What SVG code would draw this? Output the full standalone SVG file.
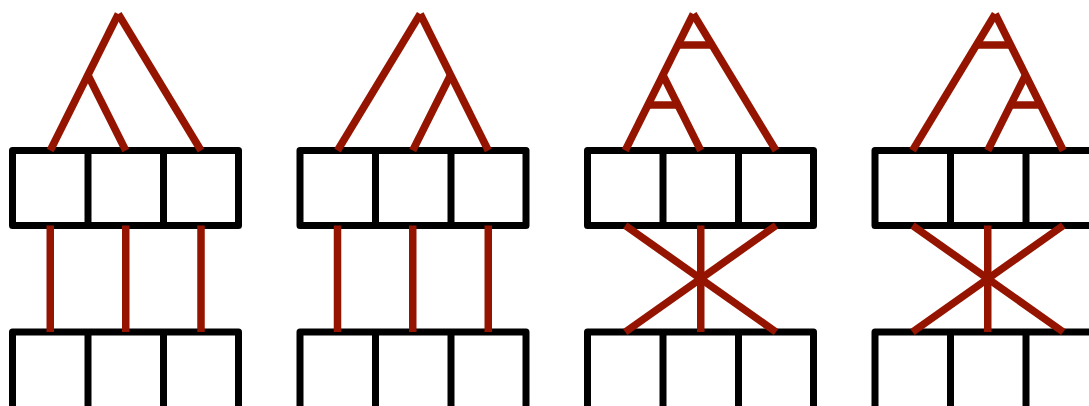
<svg xmlns="http://www.w3.org/2000/svg" xmlns:xlink="http://www.w3.org/1999/xlink" width="1089" height="406" viewBox="0 0 1089 406">
<style>
.box{fill:none;stroke:#000;stroke-width:7;stroke-linejoin:round}
.wire{fill:none;stroke:#941400;stroke-width:7.5;stroke-linecap:butt}
</style>
<defs>
<g id="rowTop">
<rect class="box" x="12.5" y="0" width="226" height="75"/>
<line class="box" x1="88" y1="0" x2="88" y2="75"/>
<line class="box" x1="163.5" y1="0" x2="163.5" y2="75"/>
</g>
<g id="rowBottom">
<rect class="box" x="12.5" y="0" width="226" height="80"/>
<line class="box" x1="88" y1="0" x2="88" y2="80"/>
<line class="box" x1="163.5" y1="0" x2="163.5" y2="80"/>
</g>
<g id="tree">
<line class="wire" x1="118.3" y1="14" x2="50.25" y2="150.5"/>
<line class="wire" x1="87.9" y1="75" x2="125.75" y2="150.5"/>
<line class="wire" x1="118.3" y1="14" x2="201" y2="150.5"/>
</g>
<g id="bars">
<line class="wire" x1="102.85" y1="45" x2="137.1" y2="45"/>
<line class="wire" x1="72.94" y1="105" x2="102.94" y2="105"/>
</g>
<g id="straight">
<line class="wire" x1="50.25" y1="225.5" x2="50.25" y2="332"/>
<line class="wire" x1="125.75" y1="225.5" x2="125.75" y2="332"/>
<line class="wire" x1="201" y1="225.5" x2="201" y2="332"/>
</g>
<g id="cross">
<line class="wire" x1="50.25" y1="225.5" x2="201" y2="332"/>
<line class="wire" x1="201" y1="225.5" x2="50.25" y2="332"/>
<line class="wire" x1="125.75" y1="225.5" x2="125.75" y2="332"/>
</g>
</defs>
<g id="panel1-top" transform="translate(0,150.5)"><use href="#rowTop" xlink:href="#rowTop"/></g>
<g id="panel1-bottom" transform="translate(0,332)"><use href="#rowBottom" xlink:href="#rowBottom"/></g>
<g id="panel2-top" transform="translate(287.5,150.5)"><use href="#rowTop" xlink:href="#rowTop"/></g>
<g id="panel2-bottom" transform="translate(287.5,332)"><use href="#rowBottom" xlink:href="#rowBottom"/></g>
<g id="panel3-top" transform="translate(575,150.5)"><use href="#rowTop" xlink:href="#rowTop"/></g>
<g id="panel3-bottom" transform="translate(575,332)"><use href="#rowBottom" xlink:href="#rowBottom"/></g>
<g id="panel4-top" transform="translate(862.5,150.5)"><use href="#rowTop" xlink:href="#rowTop"/></g>
<g id="panel4-bottom" transform="translate(862.5,332)"><use href="#rowBottom" xlink:href="#rowBottom"/></g>
<g id="connectors">
<g transform="translate(0,0)"><use href="#tree" xlink:href="#tree"/><use href="#straight" xlink:href="#straight"/></g>
<g transform="translate(538.5,0) scale(-1,1)"><use href="#tree" xlink:href="#tree"/><use href="#straight" xlink:href="#straight"/></g>
<g transform="translate(575,0)"><use href="#tree" xlink:href="#tree"/><use href="#bars" xlink:href="#bars"/><use href="#cross" xlink:href="#cross"/></g>
<g transform="translate(1113.5,0) scale(-1,1)"><use href="#tree" xlink:href="#tree"/><use href="#bars" xlink:href="#bars"/><use href="#cross" xlink:href="#cross"/></g>
</g>
</svg>
